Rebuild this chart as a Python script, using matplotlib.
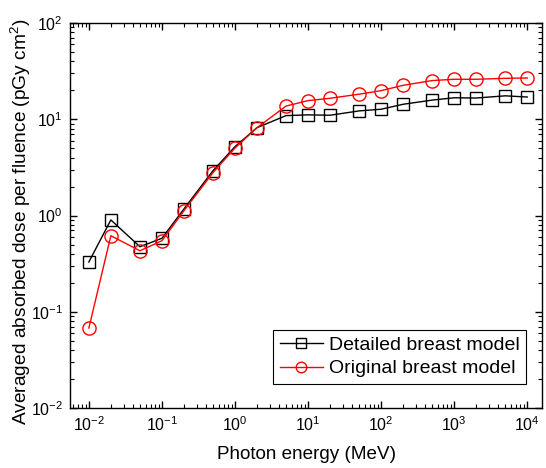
import matplotlib
matplotlib.use('Agg')
import matplotlib.pyplot as plt

energy = [0.01, 0.02, 0.05, 0.1, 0.2, 0.5, 1, 2, 5, 10, 20, 50, 100, 200, 500, 1000, 2000, 5000, 10000]
detailed = [0.329, 0.90, 0.474, 0.58, 1.17, 2.92, 5.19, 8.17, 10.9, 11.1, 11.0, 12.2, 12.7, 14.3, 15.8, 16.7, 16.6, 17.5, 17.0]
original = [0.0678, 0.617, 0.43, 0.547, 1.12, 2.79, 5.02, 8.17, 13.7, 15.6, 16.5, 18.2, 19.8, 22.5, 25.2, 26.0, 26.0, 26.6, 26.8]

plt.rcParams['font.family'] = ['Liberation Sans', 'DejaVu Sans']
plt.rcParams['mathtext.fontset'] = 'custom'
plt.rcParams['mathtext.rm'] = 'Liberation Sans'
plt.rcParams['mathtext.it'] = 'Liberation Sans:italic'

fig = plt.figure(figsize=[5.46, 4.68], dpi=100, facecolor='w')
ax = fig.add_axes([0.128, 0.128, 0.865, 0.823])

ax.plot(energy, detailed, 's-', color='k', mfc='none', mec='k', markersize=8.5, linewidth=1, markeredgewidth=1,
        label='Detailed breast model')
ax.plot(energy, original, 'o-', color='r', mfc='none', mec='r', markersize=9.5, linewidth=1, markeredgewidth=1,
        label='Original breast model')

ax.set_xscale('log')
ax.set_yscale('log')
ax.set_xlim(5.5e-3, 1.6e4)
ax.set_ylim(1e-2, 1e2)
ax.set_xticks([1e-2, 1e-1, 1e0, 1e1, 1e2, 1e3, 1e4])
ax.set_yticks([1e-2, 1e-1, 1e0, 1e1, 1e2])

ax.tick_params(which='both', direction='in', top=True, right=True, labelsize=11.5)
ax.tick_params(which='major', length=5, width=1, pad=5)
ax.tick_params(which='minor', length=3, width=0.8)
for s in ax.spines.values():
    s.set_linewidth(1)

ax.set_xlabel('Photon energy (MeV)', size=13.6, labelpad=9)
ax.set_ylabel('Averaged absorbed dose per fluence (pGy cm$^2$)', size=13.8, labelpad=-2)
ax.yaxis.label.set_y(0.485)

leg = ax.legend(loc='lower right', bbox_to_anchor=(0.966, 0.062), fontsize=14, handlelength=2.2,
                markerscale=0.8, fancybox=False, framealpha=1, edgecolor='k', borderaxespad=0,
                labelspacing=0.3, handletextpad=0.3, borderpad=0.35)
leg.get_frame().set_linewidth(0.8)

fig.savefig('out.png', dpi=100)
